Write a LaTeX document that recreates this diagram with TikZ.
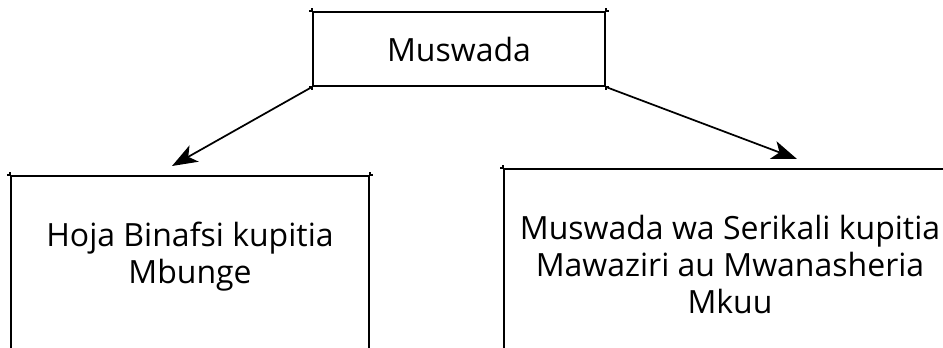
\documentclass[tikz,border=0pt]{standalone}
\usepackage{fontspec}
\setmainfont[Ligatures={NoCommon,NoRare}]{Open Sans}
\usetikzlibrary{positioning}
\usetikzlibrary{arrows.meta}

\begin{document}
\begin{tikzpicture}[x=0.75pt,y=-0.75pt,
    box/.style={draw=black,line width=1.5pt,shape=rectangle,inner sep=0pt},
    caption/.style={inner sep=0pt,align=center,font=\fontsize{24}{28}\selectfont},
    pointer/.style={-{Stealth[length=19pt,width=14pt,inset=5pt]},line width=1.3pt}]
    \useasboundingbox (0,0) rectangle (943,347);
    \clip (0,0) rectangle (943,347);

    \node (muswada)[box,caption,minimum width=219pt,minimum height=55.5pt] at (459,49) {Muswada};
    \node (hojabox)[box,anchor=north,minimum width=268.5pt,minimum height=225pt] at (190,175) {};
    \node (serikalibox)[box,anchor=north,minimum width=339pt,minimum height=225pt] at (730,168) {};

    \node (hoja)[caption,below=35pt of hojabox.north] {Hoja Binafsi kupitia \\ Mbunge};
    \node (serikali)[caption,below=35pt of serikalibox.north] {Muswada wa Serikali kupitia \\ Mawaziri au Mwanasheria \\ Mkuu};

    % small overshoot at the corners
    \foreach \n in {muswada,hojabox,serikalibox}
        \foreach \c/\dx/\dy in {north west/-1/1,north east/1/1,south west/-1/-1,south east/1/-1}
            \draw[line width=1.5pt] ([xshift=\dx*2pt]\n.\c) -- (\n.\c) -- ([yshift=\dy*2pt]\n.\c);

    \coordinate (tipL) at (172,166);
    \coordinate (tipR) at (797,159);
    \path [pointer] (muswada.south west) edge (tipL);
    \path [pointer] (muswada.south east) edge (tipR);
\end{tikzpicture}
\end{document}
